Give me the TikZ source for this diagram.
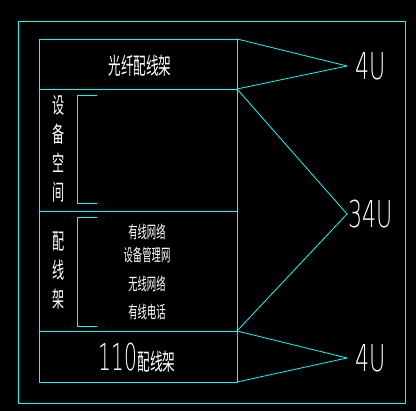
\documentclass[tikz,border=0pt]{standalone}
\usepackage{fontspec, tkz-euclide}
\usetikzlibrary{calc}
\newfontfamily\cadfont{Noto Sans CJK SC}
\newfontfamily\thinfont{DejaVu Sans ExtraLight}
\definecolor{cadcyan}{RGB}{0,255,255}
\tikzset{rackline/.style = {color = cadcyan, line width = 0.8pt}}
\tikzset{cadtext/.style = {text = white, inner sep = 0pt, align = center, xscale = 0.55}}
\tikzset{unitlabel/.style = {text = white, inner sep = 0pt, anchor = west, xscale = 0.6,
  font = \thinfont\fontsize{37}{37}\selectfont}}

\begin{document}
\begin{tikzpicture}[x = 1pt, y = 1pt]
\fill[black] (0,0) rectangle (416,411);
\useasboundingbox (0,0) rectangle (416,411);
\tkzDefPoints{18/8/O1, 405/8/O2, 405/390/O3, 18/390/O4}
\tkzDefPoints{39/372/A, 237/372/B, 237/29/C, 39/29/D}
\tkzDefPoints{39/322/E, 237/322/F, 39/200/G, 237/200/H, 39/80/K, 237/80/L}
\tkzDefPoints{347/345/P, 347/197/Q, 347/53/R}
% cabinet and rack
\tkzDrawPolygon[rackline](O1,O2,O3,O4)
\tkzDrawPolygon[rackline](A,B,C,D)
\tkzDrawSegments[rackline](E,F G,H K,L)
% unit leaders
\tkzDrawSegments[rackline](B,P F,P F,Q L,Q L,R C,R)
% brackets
\draw[rackline] (97,316) -- (77,316) -- (77,208) -- (97,208);
\draw[rackline] (97,194) -- (77,194) -- (77,85) -- (97,85);
% texts
\node[cadtext, font = \cadfont\fontsize{23}{23}\selectfont] (odf) at (140,345) {光纤配线架};
\node[cadtext, font = \cadfont\fontsize{22}{29}\selectfont] (equip) at (59,262) {设\\备\\空\\间};
\node[cadtext, font = \cadfont\fontsize{22}{29}\selectfont] (patch) at (59,140) {配\\线\\架};
\node[cadtext, font = \cadfont\fontsize{17}{17}\selectfont] (wired) at (147,179) {有线网络};
\node[cadtext, font = \cadfont\fontsize{17}{17}\selectfont] (mgmt) at (147,156) {设备管理网};
\node[cadtext, font = \cadfont\fontsize{17}{17}\selectfont] (wifi) at (147,127) {无线网络};
\node[cadtext, font = \cadfont\fontsize{17}{17}\selectfont] (phone) at (147,99) {有线电话};
\node[cadtext, font = \cadfont\fontsize{23}{23}\selectfont] (idf) at (137,53)
  {{\thinfont\fontsize{37}{37}\selectfont 110}配线架};
\node[unitlabel] (topu) at ($(P) + (8,0)$) {4U};
\node[unitlabel] (midu) at ($(Q) + (1,0)$) {34U};
\node[unitlabel] (botu) at ($(R) + (8,0)$) {4U};
\end{tikzpicture}
\end{document}
